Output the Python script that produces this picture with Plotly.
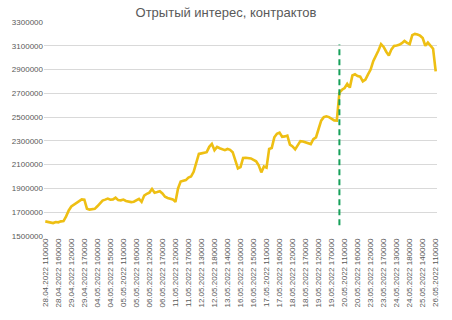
import plotly.graph_objects as go

title_text = "Отрытый интерес, контрактов"

tick_labels = [
    "28.04.2022 110000", "28.04.2022 160000", "29.04.2022 120000", "29.04.2022 170000",
    "04.05.2022 100000", "04.05.2022 150000", "05.05.2022 110000", "05.05.2022 160000",
    "06.05.2022 120000", "06.05.2022 170000", "11.05.2022 120000", "11.05.2022 170000",
    "12.05.2022 130000", "12.05.2022 180000", "13.05.2022 140000", "16.05.2022 100000",
    "16.05.2022 150000", "17.05.2022 110000", "17.05.2022 160000", "18.05.2022 120000",
    "18.05.2022 170000", "19.05.2022 120000", "19.05.2022 170000", "20.05.2022 110000",
    "20.05.2022 160000", "23.05.2022 120000", "23.05.2022 170000", "24.05.2022 130000",
    "24.05.2022 180000", "25.05.2022 140000", "26.05.2022 110000",
]
label_step = 5

open_interest = [
    1623000, 1618000, 1612000, 1609000, 1618000, 1615000, 1623000, 1625000, 1665000, 1715000,
    1748000, 1762000, 1775000, 1790000, 1808000, 1805000, 1730000, 1722000, 1724000, 1728000,
    1750000, 1778000, 1798000, 1806000, 1815000, 1805000, 1808000, 1822000, 1802000, 1800000,
    1806000, 1795000, 1787000, 1785000, 1788000, 1800000, 1812000, 1787000, 1840000, 1855000,
    1865000, 1896000, 1864000, 1870000, 1877000, 1858000, 1830000, 1820000, 1815000, 1808000,
    1787000, 1900000, 1958000, 1962000, 1970000, 1992000, 2000000, 2040000, 2120000, 2190000,
    2195000, 2197000, 2205000, 2250000, 2275000, 2222000, 2250000, 2238000, 2232000, 2222000,
    2232000, 2225000, 2205000, 2125000, 2068000, 2080000, 2156000, 2158000, 2155000, 2152000,
    2140000, 2128000, 2095000, 2035000, 2085000, 2075000, 2232000, 2240000, 2330000, 2360000,
    2370000, 2335000, 2338000, 2345000, 2268000, 2253000, 2228000, 2268000, 2298000, 2295000,
    2288000, 2278000, 2273000, 2315000, 2330000, 2400000, 2470000, 2500000, 2507000, 2500000,
    2488000, 2472000, 2471000, 2705000, 2730000, 2745000, 2780000, 2748000, 2850000, 2860000,
    2846000, 2840000, 2800000, 2815000, 2860000, 2900000, 2970000, 3010000, 3060000, 3114000,
    3090000, 3050000, 3018000, 3070000, 3098000, 3102000, 3108000, 3122000, 3141000, 3125000,
    3114000, 3190000, 3200000, 3195000, 3185000, 3165000, 3100000, 3127000, 3105000, 3075000,
    2884000,
]

event_index = 113
event_y = [1590000, 3110000]

y_min, y_max, y_step = 1500000, 3300000, 200000

x_idx = list(range(len(open_interest)))
tick_vals = [i * label_step for i in range(len(tick_labels))]

fig = go.Figure()
fig.add_trace(go.Scatter(
    x=x_idx, y=open_interest, mode="lines",
    line=dict(color="#EEBF13", width=2.6, shape="linear"),
    hoverinfo="skip", showlegend=False,
))

fig.add_shape(type="line", xref="x", yref="y",
              x0=event_index, x1=event_index, y0=event_y[0], y1=event_y[1],
              line=dict(color="#16A05A", width=2, dash="6px,4px"))

font_family = "Liberation Sans, Arial, sans-serif"
fig.update_layout(
    width=452, height=320,
    margin=dict(l=44, r=12, t=22, b=80),
    paper_bgcolor="white", plot_bgcolor="white",
    title=dict(text=title_text, x=0.5, xanchor="center", y=0.962, yanchor="middle",
               font=dict(family=font_family, size=13, color="#595959")),
    font=dict(family=font_family, color="#595959"),
)
fig.update_xaxes(
    range=[-0.5, len(open_interest) - 0.5],
    tickmode="array", tickvals=tick_vals, ticktext=tick_labels,
    tickangle=-90, tickfont=dict(size=8, color="#595959", family=font_family),
    showgrid=False, zeroline=False, showline=False, ticks="",
)
fig.update_yaxes(
    range=[y_min, y_max], dtick=y_step, tick0=y_min, tickformat="d",
    tickfont=dict(size=8, color="#595959", family=font_family),
    showgrid=True, gridcolor="#D9D9D9", gridwidth=1,
    zeroline=False, showline=False, ticks="",
)

fig.write_html("out.html")
